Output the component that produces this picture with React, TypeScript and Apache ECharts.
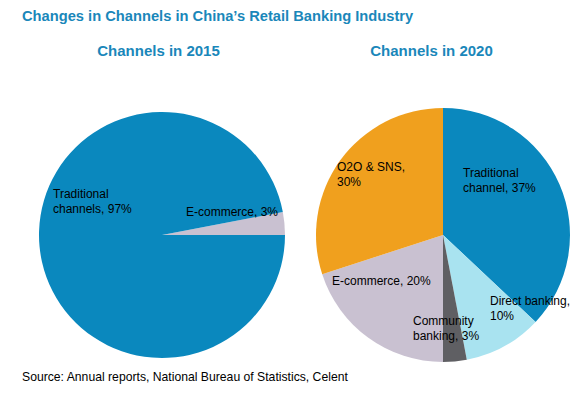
import React, { useEffect, useRef } from "react";
import * as echarts from "echarts";

const title = "Changes in Channels in China\u2019s Retail Banking Industry";
const subtitles = ["Channels in 2015", "Channels in 2020"];
const source = "Source: Annual reports, National Bureau of Statistics, Celent";

const names2015 = ["E-commerce", "Traditional channels"];
const values2015 = [3, 97];
const labels2015 = ["E-commerce, 3%", "Traditional\nchannels, 97%"];

const names2020 = ["Traditional channel", "Direct banking", "Community banking", "E-commerce", "O2O & SNS"];
const values2020 = [37, 10, 3, 20, 30];
const labels2020 = [
  "Traditional\nchannel, 37%",
  "Direct banking,\n10%",
  "Community\nbanking, 3%",
  "E-commerce, 20%",
  "O2O & SNS,\n30%",
];

const colors2015 = ["#c9c1d1", "#0a88be"];
const colors2020 = ["#0a88be", "#a9e3f0", "#5f5f63", "#c9c1d1", "#f0a01e"];

const labelPos2015 = [
  [186, 212],
  [53, 201],
];
const labelPos2020 = [
  [463, 180],
  [490, 308],
  [413, 328],
  [332, 281],
  [337, 174],
];

const FONT = "Arial, 'Liberation Sans', sans-serif";

export default function App() {
  const ref = useRef<HTMLDivElement>(null);
  useEffect(() => {
    const chart = echarts.init(ref.current!, null, { renderer: "svg" });
    const mk = (names: string[], values: number[], labels: string[], cols: string[]) =>
      names.map((n, i) => ({
        name: n,
        value: values[i],
        itemStyle: { color: cols[i] },
        label: { formatter: labels[i] },
      }));
    const labelStyle = {
      show: true,
      position: "inside" as const,
      color: "#000",
      fontFamily: FONT,
      fontSize: 12,
      lineHeight: 15,
      align: "left" as const,
    };
    chart.setOption({
      animation: false,
      backgroundColor: "#fff",
      title: [
        {
          text: title,
          left: 22,
          top: 8,
          padding: 0,
          textStyle: { color: "#1a87ba", fontSize: 14.7, fontWeight: "bold", fontFamily: FONT },
        },
        {
          text: subtitles[0],
          left: 158.5,
          top: 43,
          padding: 0,
          textAlign: "center",
          textStyle: { color: "#1a87ba", fontSize: 15, fontWeight: "bold", fontFamily: FONT },
        },
        {
          text: subtitles[1],
          left: 431.5,
          top: 43,
          padding: 0,
          textAlign: "center",
          textStyle: { color: "#1a87ba", fontSize: 15, fontWeight: "bold", fontFamily: FONT },
        },
        {
          text: source,
          left: 22,
          top: 371,
          padding: 0,
          textStyle: { color: "#000", fontSize: 12.2, fontWeight: "normal", fontFamily: FONT },
        },
      ],
      series: [
        {
          type: "pie",
          center: [162, 235],
          radius: 123,
          startAngle: 10.8,
          clockwise: true,
          silent: true,
          label: labelStyle,
          labelLine: { show: false },
          labelLayout: (p: any) => ({
            x: labelPos2015[p.dataIndex][0],
            y: labelPos2015[p.dataIndex][1],
            align: "left",
            verticalAlign: "middle",
          }),
          data: mk(names2015, values2015, labels2015, colors2015),
        },
        {
          type: "pie",
          center: [443, 235],
          radius: 127,
          startAngle: 90,
          clockwise: true,
          silent: true,
          label: labelStyle,
          labelLine: { show: false },
          labelLayout: (p: any) => ({
            x: labelPos2020[p.dataIndex][0],
            y: labelPos2020[p.dataIndex][1],
            align: "left",
            verticalAlign: "middle",
          }),
          data: mk(names2020, values2020, labels2020, colors2020),
        },
      ],
    });
    return () => chart.dispose();
  }, []);
  return <div ref={ref} style={{ width: 586, height: 399, position: "absolute", left: 0, top: 0 }} />;
}
